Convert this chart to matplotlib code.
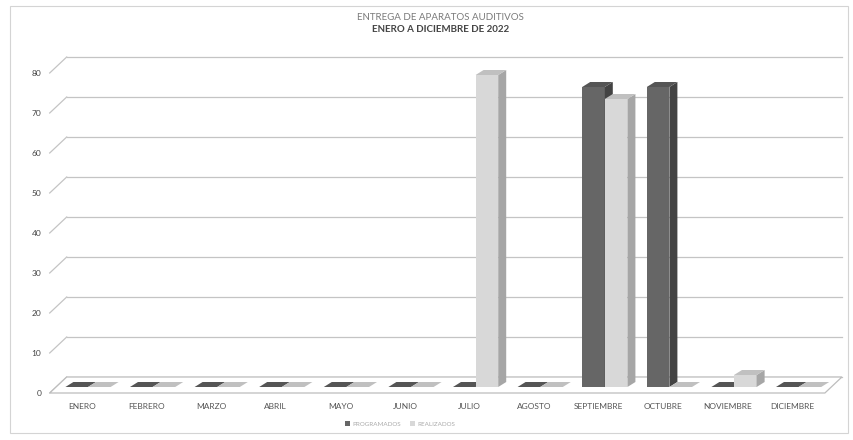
import matplotlib
matplotlib.use('Agg')
import matplotlib.pyplot as plt
from matplotlib.patches import Polygon, Rectangle
from matplotlib.transforms import Affine2D

# datos
meses = ['ENERO', 'FEBRERO', 'MARZO', 'ABRIL', 'MAYO', 'JUNIO', 'JULIO',
         'AGOSTO', 'SEPTIEMBRE', 'OCTUBRE', 'NOVIEMBRE', 'DICIEMBRE']
programados = [0, 0, 0, 0, 0, 0, 0, 0, 75, 75, 0, 0]
realizados = [0, 0, 0, 0, 0, 0, 78, 0, 72, 0, 3, 0]
y_ticks = [0, 10, 20, 30, 40, 50, 60, 70, 80]

plt.rcParams['font.family'] = ['Lato', 'DejaVu Sans']

W, H = 854, 440
fig = plt.figure(figsize=(W / 100, H / 100), dpi=100)
fig.patch.set_facecolor('white')

# marco exterior
fig.patches.append(Rectangle((10 / W, 7 / H), 838 / W, 427 / H, transform=fig.transFigure,
                             fill=False, edgecolor='#d4d4d4', linewidth=0.8))

# ejes = plano frontal del grafico 3D
ax = fig.add_axes([49.7 / W, 47 / H, 775.2 / W, 320 / H])
n = len(meses)
ax.set_xlim(-0.5, n - 0.5)
ax.set_ylim(0, 80)
ax.patch.set_visible(False)
for s in ax.spines.values():
    s.set_visible(False)

px_x = ax.bbox.width / n      # pixeles por categoria
px_y = ax.bbox.height / 80    # pixeles por unidad

# profundidad (pixeles -> unidades de datos)
back_dx, back_dy = 17 / px_x, 16 / px_y
bar_dx, bar_dy = 8 / px_x, 5 / px_y
mid = ax.transData + Affine2D().translate(6, 6)

# pared del fondo: lineas de division
for v in y_ticks:
    ax.plot([-0.5 + back_dx, n - 0.5 + back_dx], [v + back_dy, v + back_dy],
            color='#c4c4c4', lw=0.9, clip_on=False, zorder=1)
    ax.plot([-0.5, -0.5 + back_dx], [v, v + back_dy],
            color='#c4c4c4', lw=0.9, clip_on=False, zorder=1)

# piso
floor = Polygon([(-0.5, 0), (n - 0.5, 0), (n - 0.5 + back_dx, back_dy), (-0.5 + back_dx, back_dy)],
                closed=True, facecolor='white', edgecolor='#bdbdbd', lw=0.9, clip_on=False, zorder=2)
ax.add_patch(floor)

w = 0.35
series = [
    (programados, -w, '#666666', '#434343', '#555555', 'PROGRAMADOS'),
    (realizados, 0.0, '#d8d8d8', '#a6a6a6', '#c0c0c0', 'REALIZADOS'),
]

handles = []
for i in range(n):
    for vals, off, c_front, c_side, c_top, lbl in series:
        v = vals[i]
        x0 = i + off
        x1 = x0 + w
        z = 3 + i * 0.01
        ax.bar([x0], [v], width=w, align='edge', color=c_front, linewidth=0,
               transform=mid, clip_on=False, zorder=z)
        side = Polygon([(x1, 0), (x1 + bar_dx, bar_dy), (x1 + bar_dx, v + bar_dy), (x1, v)],
                       closed=True, facecolor=c_side, lw=0, transform=mid,
                       clip_on=False, zorder=z)
        top = Polygon([(x0, v), (x1, v), (x1 + bar_dx, v + bar_dy), (x0 + bar_dx, v + bar_dy)],
                      closed=True, facecolor=c_top, lw=0, transform=mid,
                      clip_on=False, zorder=z)
        ax.add_patch(side)
        ax.add_patch(top)
        if i == 0:
            handles.append(Rectangle((0, 0), 1, 1, facecolor=c_front, label=lbl))

ax.set_xlim(-0.5, n - 0.5)
ax.set_ylim(0, 80)

ax.set_yticks(y_ticks)
ax.set_yticklabels([str(t) for t in y_ticks], fontsize=6, color='#444444')
ax.set_xticks(range(n))
ax.set_xticklabels(meses, fontsize=6, color='#555555')
ax.tick_params(axis='y', length=0, pad=6)
ax.tick_params(axis='x', length=0, pad=7)

# titulo
fig.text(440 / W, 1 - 17 / H, 'ENTREGA DE APARATOS AUDITIVOS', ha='center', va='center',
         fontsize=7, color='#7a7a7a')
fig.text(441 / W, 1 - 29 / H, 'ENERO A DICIEMBRE DE 2022', ha='center', va='center',
         fontsize=7, color='#444444', fontweight='bold')

# leyenda
fig.legend(handles=handles, loc='center', bbox_to_anchor=(400 / W, 1 - 424 / H), ncol=2,
           frameon=False, fontsize=4.5, labelcolor='#aaaaaa', handlelength=0.8,
           handleheight=0.8, handletextpad=0.4, columnspacing=1.5)

fig.savefig('out.png', dpi=100, facecolor='white')
